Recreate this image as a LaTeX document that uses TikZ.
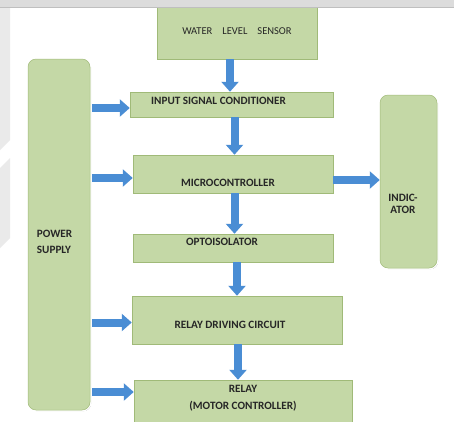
\documentclass[tikz,border=0pt]{standalone}
\usepackage{fontspec}
\setmainfont{Carlito}
\usetikzlibrary{arrows.meta,shadows}
\definecolor{boxgreen}{RGB}{196,216,166}
\definecolor{boxedge}{RGB}{160,186,120}
\definecolor{arrblue}{RGB}{74,141,212}
\definecolor{txt}{RGB}{38,38,38}
\definecolor{frame}{RGB}{220,220,220}
\definecolor{wmark}{RGB}{234,234,234}
\begin{document}
\begin{tikzpicture}[x=1pt,y=-1pt,
  blk/.style={rectangle, fill=boxgreen, draw=boxedge, line width=0.5pt, inner sep=0pt,
    drop shadow={shadow xshift=1.2pt, shadow yshift=-1.2pt, opacity=0.3, fill=black},
    preaction={draw=white, line width=3pt}},
  rblk/.style={blk, rounded corners=8pt},
  lbl/.style={font=\bfseries\fontsize{11.2}{12}\selectfont, text=txt, inner sep=0pt, align=center},
  arr/.style={draw=arrblue, line width=8pt, -{Triangle[width=17pt,length=10pt]}, shorten >=0pt}]
\useasboundingbox (0,0) rectangle (454,421);
\clip (0,0) rectangle (454,421);
\fill[white] (0,0) rectangle (454,421);
% watermark on the left
\fill[wmark] (0,7) -- (10,7) -- (10,140) -- (0,150) -- cycle;
\fill[wmark] (0,168) -- (10,158) -- (10,238) -- (0,248) -- cycle;
% boxes
\node[blk, minimum width=160pt, minimum height=56pt] (sensor) at (237,31)
  {\fontsize{10.5}{12}\selectfont\color{txt}\raisebox{-3pt}{WATER\hspace{10pt}LEVEL\hspace{10pt}SENSOR}};
\node[blk, minimum width=203pt, minimum height=25pt,
  label={[lbl, xshift=-13pt, yshift=4pt]center:INPUT SIGNAL CONDITIONER}] (isc) at (231.5,104.5) {};
\node[rblk, minimum width=62pt, minimum height=351pt,
  label={[lbl, align=left, anchor=west, xshift=9pt, yshift=-7pt]west:POWER\\[4pt]SUPPLY}] (ps) at (59,234.5) {};
\node[blk, minimum width=200pt, minimum height=38pt,
  label={[lbl, xshift=-5pt, yshift=-9pt]center:MICROCONTROLLER}] (mc) at (233,174) {};
\node[blk, minimum width=200pt, minimum height=28pt,
  label={[lbl, xshift=-11pt, yshift=6pt]center:OPTOISOLATOR}] (opto) at (233,248) {};
\node[rblk, minimum width=57pt, minimum height=173pt,
  label={[lbl, xshift=-5.5pt, yshift=-22pt]center:INDIC-\\[0pt]ATOR}] (ind) at (408.5,181.5) {};
\node[blk, minimum width=210pt, minimum height=48pt,
  label={[lbl, xshift=-7pt, yshift=-5pt]center:RELAY DRIVING CIRCUIT}] (rdc) at (237,320) {};
\node[blk, minimum width=218pt, minimum height=50pt,
  label={[lbl, yshift=7pt]center:RELAY\\[5pt](MOTOR CONTROLLER)}] (relay) at (243,405) {};
% top frame band
\fill[frame] (0,0) rectangle (454,7);
\draw[black!25, line width=0.6pt] (0,7) -- (454,7);
% vertical arrows
\draw[arr] ([xshift=-7pt]sensor.south) -- ([xshift=-7pt]sensor.south |- isc.north);
\draw[arr] ([xshift=3pt]isc.south) -- ([xshift=3pt]isc.south |- mc.north);
\draw[arr] ([xshift=1.5pt]mc.south) -- ([xshift=1.5pt]mc.south |- opto.north);
\draw[arr] ([xshift=4pt]opto.south) -- ([xshift=4pt]opto.south |- rdc.north);
\draw[arr] ([xshift=1pt]rdc.south) -- ([xshift=1pt]rdc.south |- relay.north);
% horizontal arrows
\draw[arr] ([xshift=2pt]ps.east |- 0,108) -- (isc.west |- 0,108);
\draw[arr] ([xshift=2pt]ps.east |- 0,178) -- (mc.west |- 0,178);
\draw[arr] (mc.east |- 0,180) -- (ind.west |- 0,180);
\draw[arr] ([xshift=2pt]ps.east |- 0,322.5) -- (rdc.west |- 0,322.5);
\draw[arr] ([xshift=2pt]ps.east |- 0,392) -- (relay.west |- 0,392);
\end{tikzpicture}
\end{document}
